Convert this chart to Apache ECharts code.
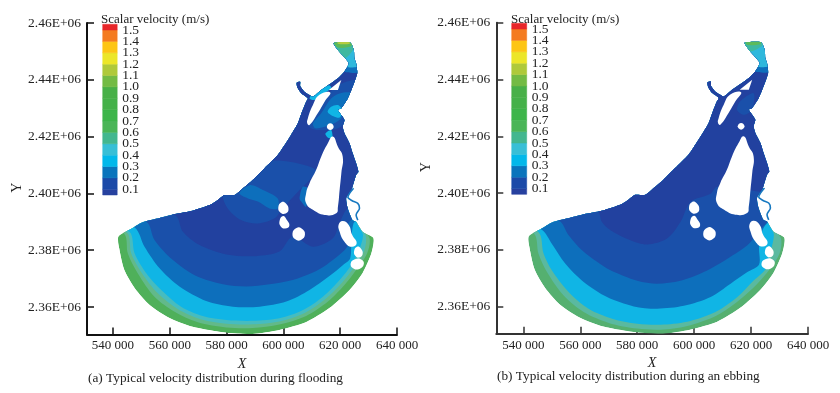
<!DOCTYPE html>
<html><head><meta charset="utf-8">
<script src="https://cdn.jsdelivr.net/npm/echarts@6/dist/echarts.min.js"></script>
<style>html,body{margin:0;padding:0;background:#fff}#c{width:840px;height:393px}</style>
</head><body><div id="c"></div>
<script>
// All map geometry is in kilometres (x, y) of the original X / Y axes.
const xTicks = [540000,560000,580000,600000,620000,640000];
const yTicks = [2360000,2380000,2400000,2420000,2440000,2460000];
const levels = [0.1,0.2,0.3,0.4,0.5,0.6,0.7,0.8,0.9,1.0,1.1,1.2,1.3,1.4,1.5];
const bandLow  = [0.05,0.1,0.2,0.3,0.4,0.5,0.6,0.7,0.8,0.9,1.0,1.1,1.2,1.3,1.4,1.5];
const bandHigh = [0.1,0.2,0.3,0.4,0.5,0.6,0.7,0.8,0.9,1.0,1.1,1.2,1.3,1.4,1.5,1.55];
const bandColors = ['#27419f','#1b4aa8','#0a74bc','#02b8ea','#38bfd6','#43b78f','#4ab557','#3db54a','#45b149','#48b048','#73bb44','#afc93a','#ece629','#fdc514','#f47b20','#e8262a'];
const navy='#22419f', c02='#1a50aa', c03='#0d6fbc', c04='#10b5e5', ring2='#46bcc0', ring1='#62b98a', rim='#4fb05a';

const domain = [[541.9,2384.8],[542.3,2380.1],[544.0,2373.0],[547.6,2366.7],[552.9,2360.7],[559.9,2356.1],[568.0,2353.0],[580.0,2350.9],[589.1,2350.5],[598.6,2351.9],[608.1,2354.7],[616.2,2359.6],[623.3,2366.0],[627.9,2372.0],[631.0,2379.0],[631.7,2384.3],
[627.9,2386.5],[625.6,2390.0],[624.3,2390.6],[622.6,2394.9],[622.1,2398.4],[623.9,2401.2],[625.6,2406.5],[626.4,2407.6],[625.6,2410.6],[624.4,2414.1],[623.3,2417.6],[621.5,2421.2],[620.9,2423.5],[621.5,2425.8],[620.4,2427.6],[619.2,2429.4],[620.4,2430.0],[622.7,2433.5],[624.4,2437.6],[626.0,2442.3],[625.6,2445.8],[625.0,2447.6],[624.8,2450.5],[623.5,2453.1],[617.7,2452.9],[619.2,2450.5],[621.3,2448.1],[623.0,2445.8],[621.5,2442.9],[619.2,2440.5],[615.1,2437.6],[613.3,2436.4],[610.4,2434.0],[609.2,2434.6],[607.4,2435.8],[605.9,2437.8],[605.9,2439.3],[604.7,2439.0],[604.9,2437.4],[606.3,2435.3],[608.6,2433.5],[608.0,2432.3],[606.6,2428.8],[605.1,2424.7],[602.7,2420.6],[600.0,2416.4],[598.0,2413.5],[593.3,2408.8],[589.2,2404.7],[585.1,2401.2],[582.8,2399.4],[579.3,2399.4],[576.9,2397.7],[574.0,2395.9],[568.0,2393.9],[562.4,2392.8],[556.4,2391.3],[550.4,2389.8],[546.9,2387.8]];

const islandBig = [[617.4,2420.0],[619.2,2416.4],[620.9,2412.9],[620.4,2407.1],[619.8,2401.2],[619.2,2395.3],[618.6,2393.0],[614.5,2392.4],[610.4,2394.2],[608.0,2396.5],[608.0,2400.0],[609.2,2403.6],[611.5,2408.2],[613.3,2412.9],[615.6,2417.6]];
const islandUpper = [[616.5,2435.5],[614.5,2432.3],[612.1,2428.2],[609.2,2424.1],[608.4,2424.7],[608.6,2426.4],[610.4,2431.1],[612.7,2434.7]];
const islandSlit = [[620.4,2439.9],[619.2,2436.4],[616.0,2436.4]];
const islandEastLong = [[620.9,2390.3],[623.0,2388.9],[624.2,2385.4],[625.8,2382.4],[623.9,2381.2],[621.5,2383.0],[619.8,2386.5],[619.5,2389.1]];
const islandSmall = [[615.3,2423.5],[616.5,2424.7],[617.7,2423.5],[616.5,2422.3]];
const island1 = [[598.2,2395.0],[599.3,2396.9],[600.9,2396.4],[601.8,2394.2],[600.8,2392.9],[599.0,2393.2]];
const island2 = [[598.7,2390.5],[599.9,2392.0],[601.1,2390.8],[602.1,2388.6],[600.6,2387.6],[599.0,2388.4]];
const island3 = [[603.2,2385.9],[604.6,2387.8],[606.4,2387.6],[607.6,2385.6],[606.2,2383.6],[604.2,2383.8]];
const island4 = [[624.9,2379.7],[625.9,2381.2],[627.2,2380.7],[627.9,2378.6],[626.6,2377.4],[625.3,2378.0]];
const island5 = [[623.7,2375.4],[625.2,2376.8],[627.6,2376.6],[628.3,2375.0],[626.8,2373.4],[624.5,2373.6]];
const islands = [islandBig,islandUpper,islandSlit,islandEastLong,islandSmall,island1,island2,island3,island4,island5];
const meander = [[624.7,2401.8],[623.3,2400.0],[622.7,2398.6],[624.2,2397.4],[626.2,2396.5],[626.8,2394.8],[625.6,2392.4],[626.2,2390.6]];
const northClose = [[640,2396],[640,2470],[530,2470],[530,2395]];

// Panel (a): contour lines of the bay
const aRing1 = [[544.0,2385.7],[545.2,2378.9],[548.7,2371.9],[554.6,2363.6],[561.7,2358.3],[569.9,2354.6],[579.9,2352.8],[589.2,2352.6],[598.6,2353.8],[608.0,2356.8],[615.7,2361.9],[621.5,2367.7],[625.6,2373.0],[629.5,2378.9],[630.3,2384.3],[626.2,2390.0]];
const aRing2 = [[545.0,2386.1],[546.4,2378.9],[550.2,2371.9],[555.8,2364.8],[562.9,2359.2],[570.8,2355.7],[579.9,2354.1],[589.2,2353.9],[598.6,2354.9],[607.5,2357.9],[614.8,2362.8],[620.7,2368.6],[624.8,2373.9],[628.5,2380.0],[629.0,2385.0],[626.2,2390.3]];
const aCyan = [[545.8,2386.5],[547.6,2378.9],[551.7,2371.9],[557.0,2366.0],[564.0,2360.1],[571.6,2356.8],[579.9,2355.4],[589.2,2355.1],[598.6,2356.0],[606.9,2358.9],[613.9,2363.6],[619.8,2369.5],[623.9,2374.8],[627.0,2381.0],[628.0,2385.5],[626.2,2390.0]];
const aBlue = [[547.6,2388.0],[551.1,2381.2],[556.4,2373.6],[563.4,2367.2],[572.8,2362.1],[582.2,2360.1],[591.6,2360.1],[601.0,2361.9],[609.2,2366.0],[616.2,2370.9],[621.0,2374.8],[623.5,2377.1],[623.9,2383.6],[624.7,2389.5],[626.2,2390.6]];
const aMid = [[551.7,2390.0],[554.6,2383.6],[561.1,2376.5],[569.3,2370.9],[578.7,2368.0],[586.9,2367.2],[595.1,2368.0],[603.3,2369.5],[610.4,2372.1],[615.1,2374.8],[621.0,2379.5],[622.7,2381.8],[622.1,2385.9],[623.9,2390.6]];
const aNavy = [[561.7,2392.4],[564.6,2386.5],[570.5,2381.8],[579.9,2378.5],[590.4,2377.9],[598.6,2379.5],[603.3,2384.8],[610.4,2381.2],[617.4,2384.2],[619.8,2389.5],[622.1,2394.2],[625.6,2396.5]];
// Panel (a): patches further up the estuary
const aPatchMid = [[578.7,2399.4],[580.4,2394.7],[585.1,2390.6],[591.0,2389.4],[596.9,2391.2],[599.2,2394.1],[605.7,2401.2],[609.2,2404.7],[611.5,2408.2],[602.1,2411.1],[594.5,2411.1],[588.1,2405.9],[582.2,2401.2]];
const aPatchBlue = [[584.5,2400.0],[588.1,2402.9],[592.8,2401.2],[598.0,2398.2],[598.0,2394.7],[595.1,2394.7],[591.0,2397.1],[587.5,2398.2]];
const aPatchShore = [[605.7,2398.2],[606.8,2402.3],[608.6,2401.7],[608.0,2395.3],[606.3,2397.1]];
const aUpperMid = [[619.2,2438.1],[626.2,2439.9],[625.6,2435.2],[622.1,2429.3],[620.3,2423.5],[612.7,2422.3],[609.2,2423.5],[611.5,2428.2],[615.6,2434.6]];
const aUpperBlue = [[619.8,2435.2],[623.9,2435.2],[620.9,2429.3],[620.3,2426.4],[616.2,2424.0],[611.3,2422.9],[610.4,2424.6],[613.3,2428.2],[616.8,2433.4]];
const aUpperCyan = [[616.8,2430.5],[619.2,2431.1],[620.7,2429.3],[619.8,2426.7],[617.6,2427.2],[615.6,2428.7]];
const aLinkCyan = [[609.2,2433.4],[611.5,2436.4],[616.2,2438.1],[616.8,2437.0],[613.3,2434.6],[611.0,2432.9]];
const aSmallCyan = [[614.8,2421.1],[616.8,2422.3],[617.2,2419.4],[615.6,2419.7]];
const tipBlue = [[620.9,2445.2],[626.8,2446.3],[626.8,2442.8],[621.5,2442.8]];
const tipCyan = [[617.4,2454.0],[625.6,2454.0],[626.8,2445.2],[622.1,2444.6],[620.3,2448.1],[618.0,2451.6]];
const aTipTeal = [[617.4,2454.0],[623.9,2454.0],[624.7,2451.0],[621.5,2447.5],[619.2,2450.5]];
const aTipGreen = [[617.4,2454.0],[623.9,2454.0],[623.9,2451.9],[619.2,2451.4]];
const aTipYellow = [[619.2,2454.0],[623.3,2454.0],[623.3,2452.7],[619.2,2452.7]];

// Panel (b): contour lines of the bay
const bRing1 = [[543.8,2385.7],[545.3,2378.7],[548.3,2372.2],[554.1,2364.0],[561.2,2358.1],[570.0,2354.3],[580.0,2352.3],[589.3,2352.0],[598.7,2353.5],[608.1,2357.0],[615.8,2362.3],[622.2,2368.1],[626.3,2372.8],[630.0,2378.7],[630.5,2384.0],[626.9,2389.3]];
const bCyan = [[545.3,2386.3],[547.1,2378.7],[550.0,2372.8],[555.9,2365.2],[562.9,2359.3],[571.2,2355.8],[580.0,2354.0],[589.3,2353.7],[598.7,2355.0],[607.5,2358.1],[615.2,2363.4],[621.0,2369.3],[625.2,2373.4],[627.0,2380.0],[628.0,2385.5],[626.3,2390.4]];
const bBlue = [[546.5,2387.1],[550.0,2382.2],[554.7,2375.2],[561.2,2368.7],[569.4,2363.4],[578.8,2360.1],[587.0,2359.3],[596.4,2360.3],[605.8,2363.4],[612.8,2368.1],[618.7,2372.2],[622.8,2374.9],[622.8,2381.0],[624.0,2386.9],[626.3,2389.8]];
const bMid = [[552.4,2390.4],[555.9,2385.2],[560.6,2379.9],[565.9,2375.8],[570.6,2372.8],[580.0,2369.1],[587.0,2368.1],[595.2,2369.1],[603.4,2372.2],[611.7,2376.9],[618.7,2381.6],[622.2,2385.7],[625.2,2389.3],[626.3,2390.4]];
const bNavy = [[565.9,2393.7],[567.6,2389.8],[570.6,2386.9],[577.6,2383.4],[583.5,2381.9],[590.5,2384.0],[595.2,2389.8],[598.7,2396.9],[605.8,2399.8],[608.1,2402.2]];
const bNorth = [[640,2402],[640,2470],[530,2470],[530,2395]];
const bUpperMid = [[616.2,2432.3],[620.9,2435.2],[620.3,2429.3],[617.4,2427.6],[615.1,2429.3]];
const bTipTeal = [[617.4,2454.0],[623.9,2454.0],[623.9,2451.9],[619.2,2449.9]];
const bTipGreen = [[618.0,2454.0],[623.3,2454.0],[623.3,2452.5],[618.6,2452.2]];

const layersA = [
 [domain,rim],[aRing1.concat(northClose),ring1],[aRing2.concat(northClose),ring2],[aCyan.concat(northClose),c04],
 [aBlue.concat(northClose),c03],[aMid.concat(northClose),c02],[aNavy.concat(northClose),navy],
 [aPatchMid,c02],[aPatchBlue,c03],[aPatchShore,c03],[aUpperMid,c02],[aUpperBlue,c03],[aUpperCyan,c04],[aLinkCyan,c04],[aSmallCyan,c04],
 [tipBlue,c03],[tipCyan,'#2fb8dc'],[aTipTeal,'#3fb8a0'],[aTipGreen,'#5dba5a'],[aTipYellow,'#b5cc40']
];
const layersB = [
 [domain,'#55b070'],[bRing1.concat(northClose),'#5ab9a0'],[bCyan.concat(northClose),c04],
 [bBlue.concat(northClose),c03],[bMid.concat(northClose),c02],[bNavy.concat(bNorth),navy],
 [bUpperMid,c02],[tipBlue,c03],[tipCyan,'#2fb8dc'],[bTipTeal,'#3fb8a0'],[bTipGreen,'#5dba5a']
];

const serif = '"Liberation Serif","Times New Roman",serif';
const ink = '#222';
const chart = echarts.init(document.getElementById('c'),null,{renderer:'canvas'});
const km = (api,p)=>api.coord([p[0]*1000,p[1]*1000]);

function mapSeries(idx,layers){
  return [{
    type:'custom',xAxisIndex:idx,yAxisIndex:idx,silent:true,clip:false,
    data:layers.map((l,i)=>[i]),
    renderItem(p,api){
      const l=layers[p.dataIndex];
      return {type:'polygon',shape:{points:l[0].map(q=>km(api,q)),smooth:0.3},style:{fill:l[1]},
        clipPath:{type:'polygon',shape:{points:domain.map(q=>km(api,q)),smooth:0.2}}};
    }
  },{
    type:'custom',xAxisIndex:idx,yAxisIndex:idx,silent:true,clip:false,z:3,
    data:islands.map((l,i)=>[i]),
    renderItem(p,api){
      const l=islands[p.dataIndex];
      return {type:'polygon',shape:{points:l.map(q=>km(api,q)),smooth:l.length>3?0.5:0},style:{fill:'#fff'}};
    }
  },{
    type:'line',xAxisIndex:idx,yAxisIndex:idx,silent:true,z:4,symbol:'none',smooth:0.3,clip:false,
    data:meander.map(q=>[q[0]*1000,q[1]*1000]),lineStyle:{color:'#1678c0',width:1.6}
  }];
}
function barSeries(idx){
  return {
    type:'custom',xAxisIndex:idx,yAxisIndex:idx,silent:true,
    data:bandLow.map((v,i)=>[i]),
    renderItem(p,api){
      const i=p.dataIndex;
      const a=api.coord([0,bandHigh[i]]),b=api.coord([1,bandLow[i]]);
      return {type:'rect',shape:{x:a[0],y:a[1],width:b[0]-a[0],height:b[1]-a[1]},style:{fill:bandColors[i],stroke:bandColors[i],lineWidth:0.5}};
    }
  };
}
function mapX(grid,min,col){return {gridIndex:grid,type:'value',min,max:640000,name:'X',nameLocation:'middle',nameGap:23,nameMoveOverlap:false,
  nameTextStyle:{fontFamily:serif,fontSize:14,fontStyle:'italic',color:ink},
  splitLine:{show:false},axisLine:{onZero:false,lineStyle:{color:col,width:2}},
  axisTick:{inside:true,length:7,customValues:xTicks,lineStyle:{color:col,width:1.5}},
  axisLabel:{customValues:xTicks,margin:5,fontFamily:serif,fontSize:13,color:ink,formatter:v=>(v/1000)+' 000'}};}
function mapY(grid,min,col,pad,gap){return {gridIndex:grid,type:'value',min,max:2460000,name:'Y',nameLocation:'middle',nameGap:gap,
  nameTextStyle:{fontFamily:serif,fontSize:14,color:ink,padding:pad},
  splitLine:{show:false},axisLine:{onZero:false,lineStyle:{color:col,width:2}},
  axisTick:{inside:true,length:7,customValues:yTicks,lineStyle:{color:col,width:1.5}},
  axisLabel:{customValues:yTicks,margin:6,fontFamily:serif,fontSize:13.5,color:ink,formatter:v=>(v/1e6).toFixed(2)+'E+06'}};}
function barX(grid){return {gridIndex:grid,type:'value',min:0,max:1,show:false};}
// The two axis-end values carry no text; they keep ECharts from hiding 0.1 and 1.5 or their neighbours.
function barY(grid){return {gridIndex:grid,type:'value',min:0.05,max:1.55,position:'right',splitLine:{show:false},axisLine:{show:false},axisTick:{show:false},
  axisLabel:{customValues:[0.05,...levels,1.55],showMinLabel:false,showMaxLabel:false,hideOverlap:false,margin:5,fontFamily:serif,fontSize:13.5,color:ink,formatter:v=>levels.includes(v)?v.toFixed(1):''}};}
const ttl=(text,left,top,size)=>({text,left,top,textStyle:{fontFamily:serif,fontSize:size,fontWeight:'normal',color:ink}});

chart.setOption({
  animation:false,backgroundColor:'#fff',
  title:[ttl('(a) Typical velocity distribution during flooding',83,367,13.3),
         ttl('(b) Typical velocity distribution during an ebbing',492,365,13.3),
         ttl('Scalar velocity (m/s)',96,8,13),ttl('Scalar velocity (m/s)',506,8,13)],
  grid:[{left:87,top:23,width:310,height:311.5},{left:496.3,top:22.7,width:311.7,height:311},
        {left:102.7,top:24.3,width:14.5,height:170.7},{left:511.7,top:23.3,width:15,height:171}],
  xAxis:[mapX(0,530850,'#111'),mapX(1,530500,'#333'),barX(2),barX(3)],
  yAxis:[mapY(0,2350300,'#111',[0,18,0,0],59),mapY(1,2350500,'#333',[0,0,0,22],63),barY(2),barY(3)],
  series:[...mapSeries(0,layersA),...mapSeries(1,layersB),barSeries(2),barSeries(3)]
});
</script></body></html>
